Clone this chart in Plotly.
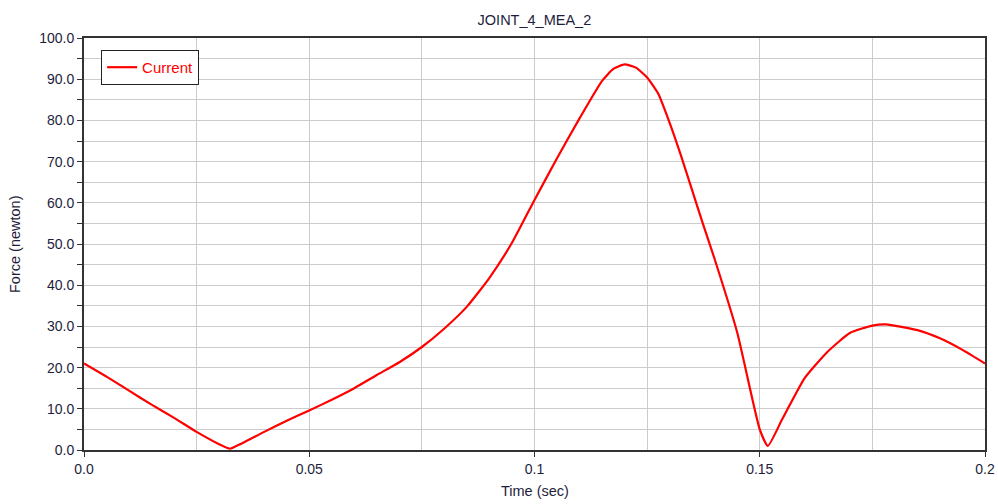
import plotly.graph_objects as go

time_sec = [0, 0.005, 0.01, 0.015, 0.02, 0.025, 0.03, 0.0324, 0.035, 0.04, 0.045, 0.05,
            0.055, 0.06, 0.065, 0.07, 0.075, 0.08, 0.085, 0.09, 0.095, 0.1, 0.105, 0.11,
            0.115, 0.1175, 0.12, 0.1225, 0.125, 0.1275, 0.13, 0.1325, 0.135, 0.1375, 0.14,
            0.145, 0.15, 0.1518, 0.155, 0.16, 0.165, 0.17, 0.175, 0.178, 0.185, 0.19,
            0.195, 0.2]
force_newton = [21.0, 17.8, 14.4, 11.0, 7.8, 4.4, 1.4, 0.3, 1.6, 4.4, 7.1, 9.6,
                12.2, 15.0, 18.2, 21.3, 25.0, 29.5, 34.8, 41.8, 50.3, 60.7, 70.8, 80.5,
                89.6, 92.5, 93.6, 92.8, 90.4, 86.4, 79.4, 71.5, 63.0, 54.5, 46.3,
                28.5, 5.0, 1.0, 7.5, 17.5, 23.8, 28.4, 30.2, 30.5, 29.1, 27.1,
                24.3, 21.0]

x_tickvals = [0, 0.05, 0.1, 0.15, 0.2]
x_ticktext = ["0.0", "0.05", "0.1", "0.15", "0.2"]

font = "Liberation Sans, Arial, sans-serif"
txt = "#1e1e3c"

fig = go.Figure()
fig.add_trace(go.Scatter(x=time_sec, y=force_newton, mode="lines", name="Current",
                         line=dict(color="#ff0000", width=2.2, shape="spline", smoothing=0.5)))

fig.update_layout(
    width=998, height=504,
    margin=dict(l=84, r=13, t=38, b=54),
    paper_bgcolor="white", plot_bgcolor="white",
    font=dict(family=font, size=14, color=txt),
    title=dict(text="JOINT_4_MEA_2", x=0.5355, xanchor="center", y=0.96, yanchor="middle",
               font=dict(family=font, size=14.5, color=txt)),
    showlegend=True,
    legend=dict(x=0.019, y=0.971, xanchor="left", yanchor="top",
                bordercolor="#222222", borderwidth=1, bgcolor="white",
                font=dict(family=font, size=15, color="#ff0000"),
                itemwidth=30, tracegroupgap=0),
    annotations=[
        dict(text="Time (sec)", xref="paper", yref="paper", x=0.5, y=-0.1, yanchor="middle",
             xanchor="center", showarrow=False, font=dict(family=font, size=14.5, color=txt)),
        dict(text="Force (newton)", xref="paper", yref="paper", x=0, xshift=-69, y=0.5,
             xanchor="center", yanchor="middle", textangle=-90, showarrow=False,
             font=dict(family=font, size=14.5, color=txt)),
    ],
)

fig.update_xaxes(
    range=[0, 0.2], tickvals=x_tickvals, ticktext=x_ticktext, automargin=False,
    showline=True, linecolor="#333333", linewidth=2, mirror=True,
    ticks="outside", ticklen=5, tickcolor="#333333",
    showgrid=True, gridcolor="#cccccc", gridwidth=1,
    minor=dict(dtick=0.025, tick0=0, showgrid=True, gridcolor="#cccccc", ticks=""),
    zeroline=False,
    tickfont=dict(family=font, size=14, color=txt),
)
fig.update_yaxes(
    range=[0, 100], dtick=10, tickformat=".1f", automargin=False,
    showline=True, linecolor="#333333", linewidth=2, mirror=True,
    ticks="outside", ticklen=5, tickcolor="#333333",
    showgrid=True, gridcolor="#cccccc", gridwidth=1,
    minor=dict(dtick=5, tick0=0, showgrid=True, gridcolor="#cccccc", ticks="outside", ticklen=5, tickcolor="#333333"),
    zeroline=False,
    tickfont=dict(family=font, size=14, color=txt),
)

fig.write_html("out.html", config={"displayModeBar": False},
               post_script="document.body.style.margin='0';document.body.style.overflow='hidden';")
